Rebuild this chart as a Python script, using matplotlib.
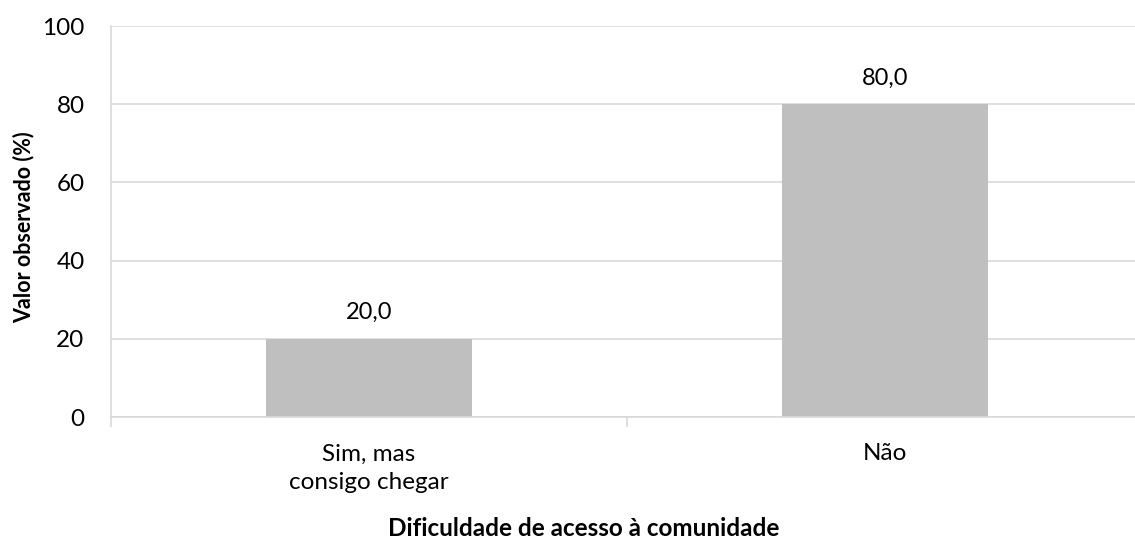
import matplotlib.pyplot as plt

categorias = ["Sim, mas\nconsigo chegar", "Não"]
valores = [20.0, 80.0]
rotulos = ["20,0", "80,0"]

plt.rcParams['font.family'] = ['Lato', 'DejaVu Sans']

fig = plt.figure(figsize=(11.35, 5.56), dpi=100)
ax = fig.add_axes([0.0978, 0.25, 0.909, 0.703])

x = list(range(len(categorias)))
ax.bar(x, valores, width=0.4, color='#bfbfbf', zorder=2)
for xi, v, r in zip(x, valores, rotulos):
    ax.text(xi, v + 4, r, ha='center', va='bottom', fontsize=17, color='#000000')

ax.set_xlim(-0.5, 1.5)
ax.set_ylim(0, 100)
ax.set_yticks([0, 20, 40, 60, 80, 100])
ax.tick_params(axis='y', length=0, labelsize=17.5, pad=19)
ax.yaxis.grid(True, color='#d9d9d9', lw=1.2, zorder=0)
ax.set_xticks(x)
ax.set_xticklabels(categorias, fontsize=17.5, linespacing=1.45)
ax.tick_params(axis='x', length=0, pad=19)
ax.set_xticks([-0.5, 0.5, 1.5], minor=True)
ax.tick_params(axis='x', which='minor', length=7, color='#d9d9d9', width=1.2)

for s in ['top', 'right']:
    ax.spines[s].set_visible(False)
for s in ['left', 'bottom']:
    ax.spines[s].set_color('#d9d9d9')
    ax.spines[s].set_linewidth(1.2)

fig.text(24 / 1135, 1 - 227 / 556, 'Valor observado (%)', rotation=90,
         ha='center', va='center', fontsize=15.5, fontweight='bold')
fig.text(584 / 1135, 1 - 528 / 556, 'Dificuldade de acesso à comunidade',
         ha='center', va='center', fontsize=17.5, fontweight='bold')

fig.savefig('out.png', dpi=100)
